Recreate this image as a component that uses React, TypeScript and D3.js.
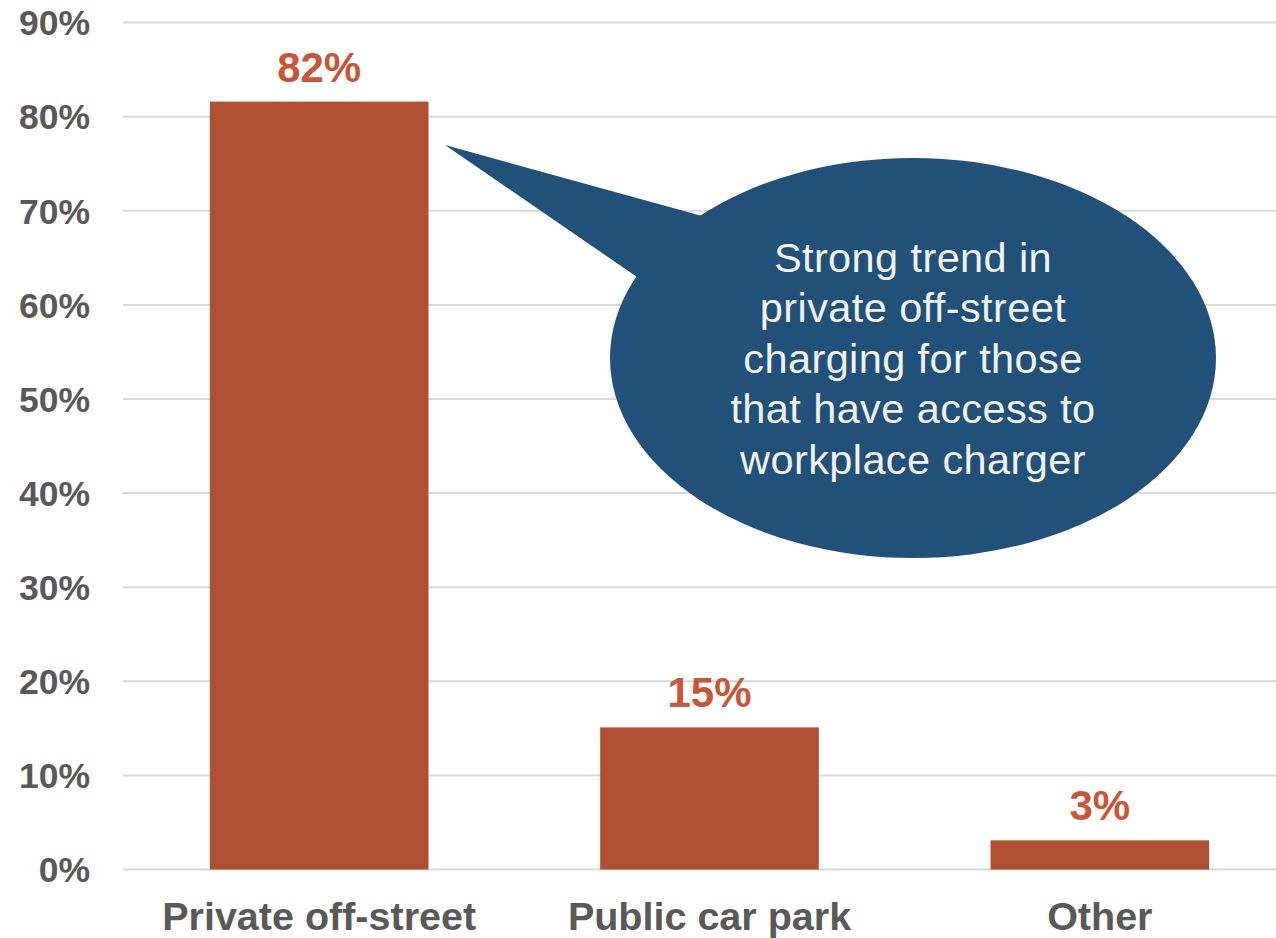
import React from "react";
import * as d3 from "d3";

const categories = ["Private off-street", "Public car park", "Other"];
const values = [81.6, 15.1, 3.1];
const valueLabels = ["82%", "15%", "3%"];
const yTicks = [0, 10, 20, 30, 40, 50, 60, 70, 80, 90];
const calloutLines = [
  "Strong trend in",
  "private off-street",
  "charging for those",
  "that have access to",
  "workplace charger",
];

const W = 1276;
const H = 938;
const FONT = "'Liberation Sans', Arial, Helvetica, sans-serif";

export default function App() {
  const x = d3
    .scaleBand<string>()
    .domain(categories)
    .range([124, 1295])
    .paddingInner(0.44)
    .paddingOuter(0.22);
  const y = d3.scaleLinear().domain([0, 90]).range([869.5, 22.6]);

  // callout geometry
  const cx = 913;
  const cy = 358;
  const rx = 303;
  const ry = 200;
  const tip: [number, number] = [445, 145];
  const base1: [number, number] = [702, 216];
  const base2: [number, number] = [637, 277];
  const pointer = d3.line()([tip, base1, [cx, cy], base2]) + "Z";

  return (
    <svg
      width={W}
      height={H}
      style={{ position: "absolute", left: 0, top: 0, background: "#fff" }}
      fontFamily={FONT}
    >
      {yTicks.map((t) => (
        <g key={t}>
          <line
            x1={123}
            x2={W}
            y1={y(t)}
            y2={y(t)}
            stroke="#d9d9d9"
            strokeWidth={2}
          />
          <text
            x={90}
            y={y(t)}
            dy="0.36em"
            textAnchor="end"
            fontSize={35.5}
            fontWeight="bold"
            fill="#595959"
          >
            {t}%
          </text>
        </g>
      ))}
      {categories.map((c, i) => (
        <g key={c}>
          <rect
            x={x(c)}
            y={y(values[i])}
            width={x.bandwidth()}
            height={y(0) - y(values[i])}
            fill="#b14f33"
          />
          <text
            x={(x(c) as number) + x.bandwidth() / 2}
            y={y(values[i]) - 20}
            textAnchor="middle"
            fontSize={42}
            fontWeight="bold"
            fill="#c8573a"
          >
            {valueLabels[i]}
          </text>
          <text
            x={(x(c) as number) + x.bandwidth() / 2}
            y={930}
            textAnchor="middle"
            fontSize={39.5}
            fontWeight="bold"
            fill="#595959"
          >
            {c}
          </text>
        </g>
      ))}
      <path d={pointer} fill="#215078" />
      <ellipse cx={cx} cy={cy} rx={rx} ry={ry} fill="#215078" />
      {calloutLines.map((l, i) => (
        <text
          key={l}
          x={cx}
          y={271.7 + i * 50.5}
          textAnchor="middle"
          fontSize={41.5}
          letterSpacing={0.4}
          fill="#f2f2f2"
        >
          {l}
        </text>
      ))}
    </svg>
  );
}
